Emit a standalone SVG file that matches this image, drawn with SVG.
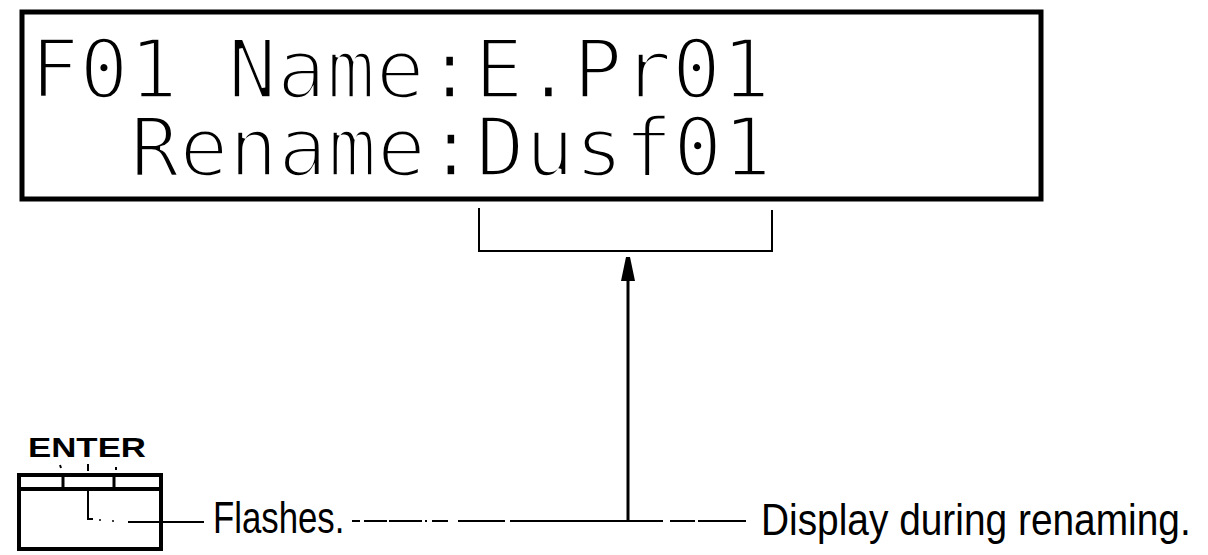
<svg xmlns="http://www.w3.org/2000/svg" width="1208" height="555" viewBox="0 0 1208 555">
  <style>
    .lcd { font-family: "DejaVu Sans Mono", "Liberation Mono", monospace; font-size: 82px; fill: #000; stroke: #fff; stroke-width: 3.5px; }
    .lbl { font-family: "Liberation Sans", Arial, sans-serif; font-size: 44px; fill: #000; }
    .key { font-family: "Liberation Sans", Arial, sans-serif; font-size: 28px; font-weight: bold; fill: #000; }
    .ln { stroke: #000; fill: none; stroke-linecap: butt; }
  </style>
  <defs>
    <marker id="arrow" viewBox="0 0 24 16" refX="23" refY="8" markerWidth="24" markerHeight="16" markerUnits="userSpaceOnUse" orient="auto">
      <path d="M0 1 L24 6 L24 10 L0 15 Z" fill="#000"/>
    </marker>
  </defs>
  <rect width="1208" height="555" fill="#fff"/>

  <g id="display">
    <rect x="22" y="12" width="1019" height="187" fill="none" stroke="#000" stroke-width="5"/>
    <text class="lcd" x="30" y="98">F01 Name:E.Pr01</text>
    <text class="lcd" x="130" y="176">Rename:Dusf01</text>
  </g>

  <g id="enter-key">
    <text class="key" x="28" y="457" textLength="118" lengthAdjust="spacingAndGlyphs">ENTER</text>
    <path class="ln" stroke-width="2" d="M60 465 L61 468 M88 464 L88 471 M116 467 L116 470"/>
    <rect x="19" y="475" width="142" height="74" fill="#fff" stroke="#000" stroke-width="4"/>
    <line class="ln" x1="19" y1="489" x2="161" y2="489" stroke-width="4"/>
    <line class="ln" x1="63" y1="475" x2="63" y2="489" stroke-width="3"/>
    <line class="ln" x1="114" y1="475" x2="114" y2="489" stroke-width="3"/>
    <path class="ln" stroke-width="2" d="M88 490 L88 519 L93 519"/>
    <circle cx="100" cy="520" r="1" fill="#000"/>
    <circle cx="113" cy="521" r="1" fill="#000"/>
  </g>

  <g id="label-flashes">
    <text class="lbl" transform="translate(213 533) scale(0.79 1)" x="0" y="0">Flashes.</text>
  </g>

  <g id="label-display">
    <text class="lbl" transform="translate(761 535) scale(0.883 1)" x="0" y="0">Display during renaming.</text>
  </g>

  <g id="connectors">
    <!-- bracket under the renamed characters -->
    <path class="ln" stroke-width="2" d="M479 208 L479 251 L772 251 L772 210"/>
    <!-- arrow up to bracket -->
    <line class="ln" x1="628" y1="522" x2="628" y2="258" stroke-width="3" marker-end="url(#arrow)"/>
    <!-- key leader -->
    <line class="ln" x1="128" y1="522" x2="204" y2="522" stroke-width="2"/>
    <!-- bottom leader line -->
    <path class="ln" stroke-width="2" d="M352 521 L360 521 M364 521 L387 521 M389 521 L422 521 M425 521 L427 521 M432 521 L448 521 M458 521 L505 521 M510 521 L663 521 M670 521 L695 521 M698 521 L746 521"/>
  </g>
</svg>
